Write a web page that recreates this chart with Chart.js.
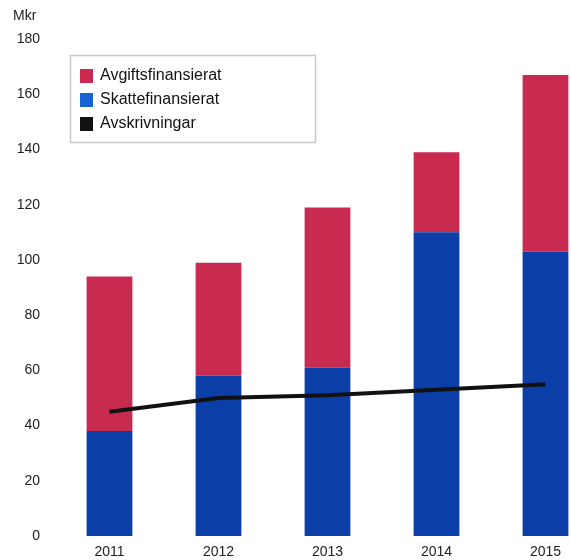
<!DOCTYPE html>
<html>
<head>
<meta charset="utf-8">
<script src="https://cdn.jsdelivr.net/npm/chart.js@4"></script>
<style>
  html, body { margin: 0; padding: 0; background: #fff; overflow: hidden; }
  #wrap { position: relative; width: 571px; height: 560px; overflow: hidden; }
  #wrap canvas { position: absolute; left: 0; top: 0; }
</style>
</head>
<body>
<div id="wrap"><canvas id="grafico" width="600" height="560"></canvas></div>
<script>
// Data
const years = ['2011', '2012', '2013', '2014', '2015'];
const skattefinansierat = [38, 58, 61, 110, 103];
const avgiftsfinansierat = [56, 41, 58, 29, 64];
const avskrivningar = [45, 50, 51, 53, 55];
const yTicks = [0, 20, 40, 60, 80, 100, 120, 140, 160, 180];

const fontFamily = '"Liberation Sans", Arial, sans-serif';

// Legend drawn inside the plot, red first like the original
const boxLegend = {
  id: 'boxLegend',
  afterDraw(chart) {
    const ctx = chart.ctx;
    const ds = chart.data.datasets;
    const items = [ds[1], ds[0], ds[2]];
    ctx.save();
    ctx.strokeStyle = '#c8c8c8';
    ctx.lineWidth = 1.5;
    ctx.strokeRect(70.5, 55.5, 245, 87);
    ctx.font = '16px ' + fontFamily;
    ctx.textBaseline = 'middle';
    items.forEach((d, i) => {
      const y = 76 + i * 24;
      ctx.fillStyle = d.legendColor || d.backgroundColor;
      ctx.fillRect(80, y - 7, 13, 14);
      ctx.fillStyle = '#111';
      ctx.fillText(d.label, 100, y);
    });
    // unit label above the axis
    ctx.font = '14px ' + fontFamily;
    ctx.fillStyle = '#222';
    ctx.textBaseline = 'middle';
    ctx.fillText('Mkr', 13, 16);
    ctx.restore();
  }
};

new Chart(document.getElementById('grafico'), {
  data: {
    labels: years,
    datasets: [
      {
        type: 'bar',
        label: 'Skattefinansierat',
        data: skattefinansierat,
        backgroundColor: '#0b3ea6',
        legendColor: '#1863d2',
        barPercentage: 0.42,
        categoryPercentage: 1,
        stack: 'total',
        order: 2
      },
      {
        type: 'bar',
        label: 'Avgiftsfinansierat',
        data: avgiftsfinansierat,
        backgroundColor: '#c92b50',
        barPercentage: 0.42,
        categoryPercentage: 1,
        stack: 'total',
        order: 2
      },
      {
        type: 'line',
        label: 'Avskrivningar',
        data: avskrivningar,
        borderColor: '#111',
        backgroundColor: '#111',
        borderWidth: 4,
        pointRadius: 0,
        tension: 0,
        stack: 'linje',
        order: 1
      }
    ]
  },
  options: {
    responsive: false,
    animation: false,
    layout: { padding: { top: 39, right: 0, left: 0, bottom: 0 } },
    plugins: {
      legend: { display: false },
      tooltip: { enabled: false }
    },
    scales: {
      x: {
        stacked: true,
        grid: { display: false, drawTicks: false },
        border: { display: false },
        ticks: {
          padding: 8,
          color: '#222',
          font: { size: 14, family: fontFamily }
        },
        afterFit(scale) { scale.height = 24; }
      },
      y: {
        stacked: true,
        min: 0,
        max: 180,
        afterBuildTicks(scale) { scale.ticks = yTicks.map(v => ({ value: v })); },
        grid: { display: false, drawTicks: false },
        border: { display: false },
        ticks: {
          padding: 15,
          color: '#222',
          font: { size: 14, family: fontFamily }
        },
        afterFit(scale) { scale.width = 55; }
      }
    }
  },
  plugins: [boxLegend]
});
</script>
</body>
</html>
